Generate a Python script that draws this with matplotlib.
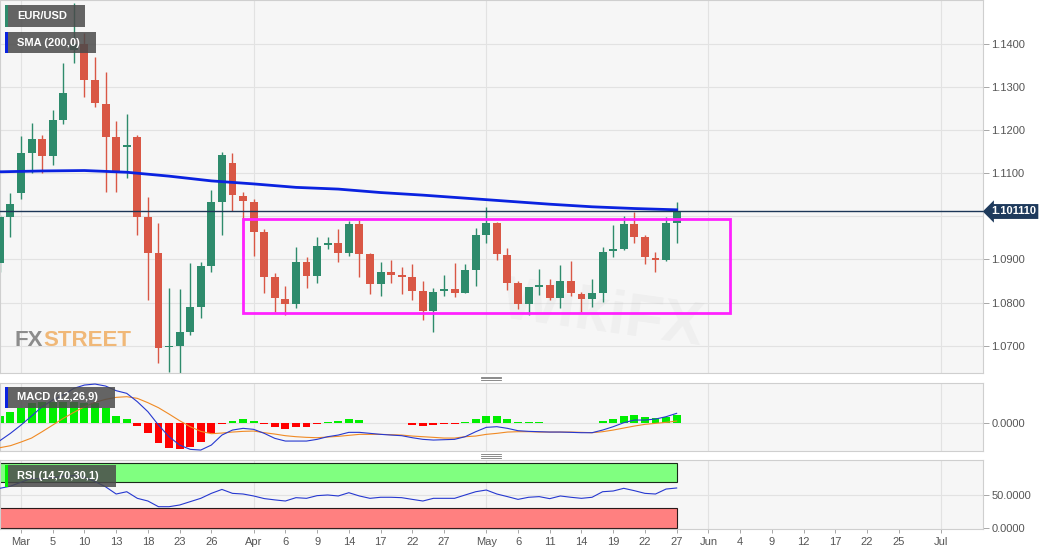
import matplotlib
matplotlib.use("Agg")
import matplotlib.pyplot as plt
from matplotlib.patches import Rectangle
from matplotlib.lines import Line2D
import matplotlib.transforms as mtransforms
import pandas as pd

plt.rcParams["font.family"] = ["Liberation Sans", "DejaVu Sans"]

# ---- data (EUR/USD daily, Feb 27 - May 27 2020) ----
DAYS = pd.bdate_range("2020-02-27", "2020-05-27")
AXIS_DAYS = pd.bdate_range("2020-02-27", "2020-07-10")

opens = [1.0891, 1.0999, 1.1055, 1.1146, 1.1178, 1.1140, 1.1224, 1.1385, 1.1400, 1.1316,
         1.1261, 1.1184, 1.1160, 1.1183, 1.0999, 1.0914, 1.0697, 1.0700, 1.0731, 1.0791,
         1.0885, 1.1032, 1.1124, 1.1048, 1.1034, 1.0964, 1.0860, 1.0809, 1.0796, 1.0893,
         1.0862, 1.0934, 1.0939, 1.0916, 1.0982, 1.0913, 1.0843, 1.0872, 1.0864, 1.0860,
         1.0826, 1.0781, 1.0826, 1.0832, 1.0823, 1.0876, 1.0957, 1.0984, 1.0911, 1.0845,
         1.0797, 1.0836, 1.0841, 1.0810, 1.0850, 1.0821, 1.0808, 1.0823, 1.0919, 1.0924,
         1.0981, 1.0952, 1.0904, 1.0899, 1.0985]
highs = [1.1003, 1.1055, 1.1186, 1.1215, 1.1188, 1.1246, 1.1354, 1.1494, 1.1424, 1.1368,
         1.1335, 1.1221, 1.1238, 1.1188, 1.1045, 1.0984, 1.0833, 1.0831, 1.0891, 1.0895,
         1.1061, 1.1149, 1.1147, 1.1057, 1.1039, 1.0970, 1.0868, 1.0839, 1.0928, 1.0905,
         1.0953, 1.0953, 1.0970, 1.0988, 1.0991, 1.0914, 1.0895, 1.0899, 1.0882, 1.0889,
         1.0849, 1.0833, 1.0863, 1.0891, 1.0889, 1.0974, 1.1021, 1.0986, 1.0926, 1.0849,
         1.0837, 1.0877, 1.0854, 1.0887, 1.0897, 1.0824, 1.0854, 1.0930, 1.0980, 1.1001,
         1.1011, 1.0957, 1.0918, 1.0998, 1.1032]
lows = [1.0870, 1.0953, 1.1039, 1.1100, 1.1100, 1.1119, 1.1214, 1.1356, 1.1277, 1.1252,
        1.1057, 1.1057, 1.1088, 1.0957, 1.0806, 1.0660, 1.0640, 1.0638, 1.0725, 1.0764,
        1.0872, 1.0957, 1.1012, 1.0907, 1.0907, 1.0823, 1.0779, 1.0772, 1.0787, 1.0833,
        1.0845, 1.0924, 1.0895, 1.0907, 1.0859, 1.0819, 1.0816, 1.0845, 1.0820, 1.0806,
        1.0760, 1.0733, 1.0816, 1.0812, 1.0822, 1.0839, 1.0937, 1.0899, 1.0829, 1.0785,
        1.0772, 1.0818, 1.0805, 1.0787, 1.0816, 1.0779, 1.0791, 1.0802, 1.0905, 1.0922,
        1.0939, 1.0890, 1.0872, 1.0896, 1.0937]
closes = [1.0999, 1.1028, 1.1146, 1.1178, 1.1140, 1.1223, 1.1285, 1.1400, 1.1316, 1.1263,
          1.1184, 1.1103, 1.1165, 1.0999, 1.0916, 1.0696, 1.0700, 1.0731, 1.0791, 1.0885,
          1.1032, 1.1142, 1.1049, 1.1035, 1.0964, 1.0860, 1.0810, 1.0796, 1.0893, 1.0862,
          1.0931, 1.0939, 1.0916, 1.0982, 1.0913, 1.0843, 1.0872, 1.0864, 1.0860, 1.0827,
          1.0781, 1.0825, 1.0832, 1.0823, 1.0876, 1.0957, 1.0984, 1.0913, 1.0846, 1.0797,
          1.0836, 1.0841, 1.0810, 1.0850, 1.0822, 1.0808, 1.0822, 1.0917, 1.0924, 1.0981,
          1.0953, 1.0905, 1.0899, 1.0984, 1.1011]

# SMA(200) read every 4th session
sma_200 = [1.1103, 1.1105, 1.1106, 1.1102, 1.1093, 1.1082, 1.1075, 1.1067, 1.1063,
           1.1055, 1.1049, 1.1042, 1.1035, 1.1028, 1.1022, 1.1018, 1.1015]

last_price = 1.101110
range_box = ("2020-03-31", "2020-06-03", 1.0775, 1.0993)

macd_line = [-0.0036, -0.00213, -0.00047, 0.00133, 0.0032, 0.00453, 0.00553, 0.00687, 0.00753, 0.00773,
             0.00733, 0.0064, 0.00587, 0.0042, 0.0022, -0.00047, -0.0028, -0.00447, -0.00533, -0.00547,
             -0.00447, -0.00247, -0.00147, -0.00113, -0.00133, -0.00213, -0.00313, -0.00367, -0.00367, -0.00367,
             -0.00333, -0.0028, -0.00247, -0.00193, -0.00193, -0.00213, -0.00233, -0.00247, -0.0026, -0.003,
             -0.00333, -0.00347, -0.0034, -0.00333, -0.0028, -0.0018, -0.00093, -0.0008, -0.00113, -0.0016,
             -0.00173, -0.0018, -0.00187, -0.00187, -0.00193, -0.002, -0.002, -0.00147, -0.0008, 0.0,
             0.00053, 0.00053, 0.00073, 0.0012, 0.00187]
macd_signal = [-0.005, -0.0046, -0.00387, -0.00307, -0.0018, -0.00047, 0.00087, 0.00207, 0.0032, 0.00407,
               0.00467, 0.00507, 0.0052, 0.00487, 0.004, 0.003, 0.00173, 0.0004, -0.0008, -0.00173,
               -0.0022, -0.00207, -0.00187, -0.00173, -0.00167, -0.002, -0.00227, -0.0026, -0.0028, -0.00293,
               -0.003, -0.00287, -0.00273, -0.00253, -0.00233, -0.00233, -0.00233, -0.0024, -0.00247, -0.00267,
               -0.0028, -0.00293, -0.00307, -0.00307, -0.0028, -0.00267, -0.00233, -0.00213, -0.00187, -0.0018,
               -0.0018, -0.00187, -0.00187, -0.00187, -0.00187, -0.00193, -0.002, -0.0018, -0.00147, -0.00107,
               -0.00067, -0.00033, -0.00013, 0.00007, 0.00033]
macd_hist = [0.00133, 0.0022, 0.00287, 0.00387, 0.0041, 0.0041, 0.0041, 0.0042, 0.004, 0.00387,
             0.00287, 0.00133, 0.00067, -0.00067, -0.002, -0.004, -0.0051, -0.0053, -0.0048, -0.0038,
             -0.002, -0.00027, 0.00027, 0.00067, 0.0004, -0.00027, -0.00093, -0.00133, -0.00093, -0.0008,
             -0.00033, 0.00007, 0.00027, 0.00067, 0.00053, 0.00003, 0.00003, -0.00013, -0.00013, -0.00047,
             -0.00067, -0.00053, -0.00033, -0.00027, 0.00007, 0.0008, 0.0014, 0.00133, 0.0008, 0.0002,
             0.00007, 0.00007, -0.00013, 0.0, -0.00013, -0.00013, -0.00013, 0.0004, 0.0008, 0.00133,
             0.00153, 0.0012, 0.001, 0.0012, 0.00147]

rsi = [60.7, 64, 70, 76, 75, 77, 79, 80, 77.5, 71,
       63, 52, 55.5, 45.4, 41.3, 32.6, 32.6, 35.2, 40.3, 45.4,
       53, 59, 53, 52, 49, 45, 43, 41.3, 46.4, 45.4,
       49.5, 50.5, 49, 54, 49, 45.4, 47, 47, 46.4, 43.8,
       41.3, 45.4, 45.4, 45.4, 50.5, 55.5, 58.1, 52, 48, 43.8,
       47, 48, 44.9, 49, 47, 45.4, 47, 55.5, 56.6, 60.7,
       57.1, 53, 52, 59.6, 61.2]

tick_days = ["2020-03-02", "2020-03-05", "2020-03-10", "2020-03-13", "2020-03-18", "2020-03-23",
             "2020-03-26", "2020-04-01", "2020-04-06", "2020-04-09", "2020-04-14", "2020-04-17",
             "2020-04-22", "2020-04-27", "2020-05-01", "2020-05-06", "2020-05-11", "2020-05-14",
             "2020-05-19", "2020-05-22", "2020-05-27", "2020-06-01", "2020-06-04", "2020-06-09",
             "2020-06-12", "2020-06-17", "2020-06-22", "2020-06-25", "2020-07-01"]
tick_labels = ["Mar", "5", "10", "13", "18", "23", "26", "Apr", "6", "9", "14", "17", "22", "27",
               "May", "6", "11", "14", "19", "22", "27", "Jun", "4", "9", "12", "17", "22", "25", "Jul"]
month_days = ["2020-03-02", "2020-04-01", "2020-05-01", "2020-06-01", "2020-07-01"]
price_grid = [1.07, 1.08, 1.09, 1.10, 1.11, 1.12, 1.13, 1.14]
price_ticks = [1.07, 1.08, 1.09, 1.11, 1.12, 1.13, 1.14]  # 1.1000 sits under the price tag

# ---- styling ----
GREEN = "#2e8b6c"
RED = "#d95745"
BG = "#f6f6f6"
GRID = "#e2e2e2"
EDGE = "#cfcfcf"
TXT = "#555555"
W, H = 1060, 555


def pos(day):
    return AXIS_DAYS.get_loc(pd.Timestamp(day))


x = [pos(d) for d in DAYS]
XLIM = (0.014, 92.97)

fig = plt.figure(figsize=(W / 100, H / 100), dpi=100, facecolor="white")


def fy(ypx):
    return 1 - ypx / H


ax_p = fig.add_axes([0, fy(373), 983 / W, 373 / H])
ax_m = fig.add_axes([0, fy(451), 983 / W, 68 / H])
ax_r = fig.add_axes([0, fy(529), 983 / W, 69 / H])

month_x = [pos(d) for d in month_days]
for ax in (ax_p, ax_m, ax_r):
    ax.set_facecolor(BG)
    ax.set_xlim(*XLIM)
    for s in ax.spines.values():
        s.set_color(EDGE)
        s.set_linewidth(0.8)
    ax.yaxis.tick_right()
    ax.tick_params(axis="y", colors=TXT, labelsize=8, length=4, width=0.6, pad=2)
    ax.tick_params(axis="y", color="#999999")
    for mx in month_x:
        ax.axvline(mx, color=GRID, lw=0.8, zorder=0)
    ax.set_xticks([])

# ---- price panel ----
ax_p.set_ylim(1.0637, 1.1501)
ax_p.set_yticks(price_ticks)
ax_p.set_yticklabels([f"{t:.4f}" for t in price_ticks])
for t in price_grid:
    ax_p.axhline(t, color=GRID, lw=0.8, zorder=0)

ax_p.text(57, 1.0770, "WikiFX", fontsize=44, fontweight="bold", color="#b0b0b0",
          alpha=0.1, rotation=-8, ha="center", va="center", zorder=0.5)

for xi, o, h, l, c in zip(x, opens, highs, lows, closes):
    col = GREEN if c >= o else RED
    ax_p.vlines(xi, l, h, color=col, lw=1.0, zorder=2)
    body = max(abs(c - o), 0.00012)
    ax_p.bar(xi, body, bottom=min(o, c), width=0.75, color=col, lw=0, zorder=3)

ax_p.plot(x[::4], sma_200, color="#0a22e0", lw=2.0, zorder=4)
ax_p.axhline(last_price, color="#1c3657", lw=1.0, zorder=4)

bx0, bx1, by0, by1 = range_box
ax_p.add_patch(Rectangle((pos(bx0), by0), pos(bx1) - pos(bx0), by1 - by0,
                         fill=False, ec="#ff22ff", lw=2.0, zorder=5))

trans = mtransforms.blended_transform_factory(ax_p.transAxes, ax_p.transData)
ax_p.text(1.008, last_price, f"{last_price:.6f}", transform=trans, fontsize=8,
          fontweight="bold", color="white", va="center", ha="left", clip_on=False, zorder=6,
          bbox=dict(boxstyle="larrow,pad=0.22", fc="#1e3a5c", ec="none"))

# ---- MACD panel ----
ax_m.set_ylim(-0.00566, 0.00794)
ax_m.set_yticks([0.0])
ax_m.set_yticklabels(["0.0000"])
ax_m.axhline(0, color=GRID, lw=0.8, zorder=0)
hist_cols = ["#00ee00" if v >= 0 else "#ff0000" for v in macd_hist]
ax_m.bar(x, macd_hist, width=0.75, color=hist_cols, lw=0, zorder=2)
ax_m.plot(x, macd_signal, color="#f08a24", lw=0.8, zorder=3)
ax_m.plot(x, macd_line, color="#2638d0", lw=0.8, zorder=4)

# ---- RSI panel ----
ax_r.set_ylim(-1.5, 104)
ax_r.set_yticks([0, 50])
ax_r.set_yticklabels(["0.0000", "50.0000"])
ax_r.axhline(50, color=GRID, lw=0.8, zorder=0)
band_w = x[-1] - (XLIM[0] - 1)
ax_r.add_patch(Rectangle((XLIM[0] - 1, 70), band_w, 30, fc="#80ff80", ec="#1a2a1a", lw=0.8, zorder=1))
ax_r.add_patch(Rectangle((XLIM[0] - 1, 0), band_w, 30, fc="#ff8080", ec="#2a1a1a", lw=0.8, zorder=1))
ax_r.plot(x, rsi, color="#2638d0", lw=0.8, zorder=3)

ax_r.set_xticks([pos(d) for d in tick_days])
ax_r.set_xticklabels(tick_labels)
ax_r.tick_params(axis="x", colors=TXT, labelsize=8, length=3, width=0.6, pad=3)
ax_r.tick_params(axis="x", color="#999999")


# ---- legend tags ----
def tag(x0, y0, w, h, label, strip):
    fig.add_artist(Rectangle((x0 / W, fy(y0 + h)), w / W, h / H, transform=fig.transFigure,
                             fc="#4a4a4a", ec="none", alpha=0.85, zorder=10))
    fig.add_artist(Rectangle((x0 / W, fy(y0 + h)), 2.5 / W, h / H, transform=fig.transFigure,
                             fc=strip, ec="none", zorder=11))
    fig.text((x0 + 12) / W, fy(y0 + h / 2), label, color="white", fontsize=8,
             fontweight="bold", va="center", ha="left", zorder=12)


tag(5, 5, 80, 22, "EUR/USD", GREEN)
tag(5, 32, 91, 21, "SMA (200,0)", "#0a22e0")
tag(5, 387, 110, 21, "MACD (12,26,9)", "#0a22e0")
tag(5, 465, 111, 22, "RSI (14,70,30,1)", "#00ee00")

# FXStreet logo text, STREET placed right after FX
fx = fig.text(15 / W, fy(341), "FX", color="#8c8c8c", fontsize=16, fontweight="bold",
              va="center", ha="left", zorder=9)
renderer = fig.canvas.get_renderer()
fx_right = fx.get_window_extent(renderer).x1
fig.text(fx_right / W, fy(341), "STREET", color="#f0b878", fontsize=16, fontweight="bold",
         va="center", ha="left", zorder=9)

# panel resize handles
for yc in (378.3, 456.0):
    for dy in (-1.7, 0.0, 1.7):
        fig.add_artist(Line2D([481 / W, 501 / W], [fy(yc + dy), fy(yc + dy)],
                              transform=fig.transFigure, color="#777777", lw=0.6, zorder=9))

fig.savefig("out.png", dpi=100, facecolor="white")
